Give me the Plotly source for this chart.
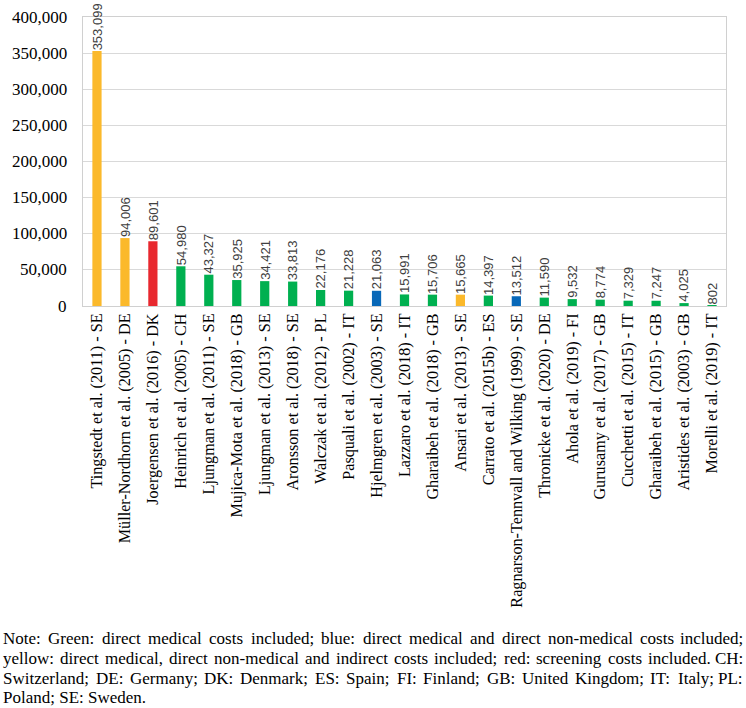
import plotly.graph_objects as go

studies = [
    "Tingstedt et al. (2011) - SE",
    "Müller-Nordhorn et al. (2005) - DE",
    "Joergensen et al. (2016) - DK",
    "Heinrich et al. (2005) - CH",
    "Ljungman et al. (2011) - SE",
    "Mujica-Mota et al. (2018) - GB",
    "Ljungman et al. (2013) - SE",
    "Aronsson et al. (2018) - SE",
    "Walczak et al. (2012) - PL",
    "Pasquali et al. (2002) - IT",
    "Hjelmgren et al. (2003) - SE",
    "Lazzaro et al. (2018) - IT",
    "Gharaibeh et al. (2018) - GB",
    "Ansari et al. (2013) - SE",
    "Carrato et al. (2015b) - ES",
    "Ragnarson-Tennvall and Wilking (1999) - SE",
    "Thronicke et al. (2020) - DE",
    "Ahola et al. (2019) - FI",
    "Gurusamy et al. (2017) - GB",
    "Cucchetti et al. (2015) - IT",
    "Gharaibeh et al. (2015) - GB",
    "Aristides et al. (2003) - GB",
    "Morelli et al. (2019) - IT",
]
costs = [353099, 94006, 89601, 54980, 43327, 35925, 34421, 33813, 22176, 21228,
         21063, 15991, 15706, 15665, 14397, 13512, 11590, 9532, 8774, 7329,
         7247, 4025, 802]
cost_type = ["yellow", "yellow", "red", "green", "green", "green", "green", "green",
             "green", "green", "blue", "green", "green", "yellow", "green", "blue",
             "green", "green", "green", "green", "green", "green", "green"]
y_ticks = [0, 50000, 100000, 150000, 200000, 250000, 300000, 350000, 400000]

note_lines = [
    "Note: Green: direct medical costs included; blue: direct medical and direct non-medical costs included;",
    "yellow: direct medical, direct non-medical and indirect costs included; red: screening costs included. CH:",
    "Switzerland; DE: Germany; DK: Denmark; ES: Spain; FI: Finland; GB: United Kingdom; IT: Italy; PL:",
    "Poland; SE: Sweden.",
]

palette = {"green": "#00B050", "blue": "#0868B8", "yellow": "#FBB92B", "red": "#E8282E"}
colors = [palette[t] for t in cost_type]

SERIF = "Liberation Serif"
SANS = "Liberation Sans"

# figure geometry (pixels)
W, H = 746, 708
ML, MR, MT, MB = 83, 20, 17, 402
PW, PH = W - ML - MR, H - MT - MB


def px_to_paper_x(px):
    return (px - ML) / PW


def px_to_paper_y(py):
    return (H - MB - py) / PH


# Times New Roman / Liberation Serif advance widths (per 1000 em)
TNR = {
    ' ': 250, ';': 278, ':': 278, ',': 250, '.': 250, '-': 333,
    'a': 444, 'b': 500, 'c': 444, 'd': 500, 'e': 444, 'f': 333, 'g': 500, 'h': 500,
    'i': 278, 'j': 278, 'k': 500, 'l': 278, 'm': 778, 'n': 500, 'o': 500, 'p': 500,
    'q': 500, 'r': 333, 's': 389, 't': 278, 'u': 500, 'v': 500, 'w': 722, 'x': 500,
    'y': 500, 'z': 444,
    'A': 722, 'B': 667, 'C': 667, 'D': 722, 'E': 611, 'F': 556, 'G': 722, 'H': 722,
    'I': 333, 'J': 389, 'K': 722, 'L': 611, 'M': 889, 'N': 722, 'O': 722, 'P': 556,
    'Q': 722, 'R': 667, 'S': 556, 'T': 611, 'U': 722, 'V': 722, 'W': 944, 'X': 722,
    'Y': 722, 'Z': 611,
}


def text_w(s, size):
    return sum(TNR.get(c, 500) for c in s) * size / 1000.0


fig = go.Figure()
fig.add_trace(go.Bar(x=studies, y=costs, marker=dict(color=colors, line=dict(width=0)),
                     width=0.33, hoverinfo="x+y"))

# value labels above bars
for s, v in zip(studies, costs):
    fig.add_annotation(x=s, y=v, text=f"{v:,}", textangle=-90, showarrow=False,
                       xanchor="center", yanchor="bottom", yshift=0, borderpad=0,
                       font=dict(family=SANS, size=13, color="#404040"))

# y tick labels (serif)
for t in y_ticks:
    fig.add_annotation(xref="paper", yref="y", x=0, y=t, text=f"{t:,}",
                       xanchor="right", yanchor="middle", xshift=-15, borderpad=0,
                       showarrow=False,
                       font=dict(family=SERIF, size=17, color="#000000"))

# justified note text
NOTE_SIZE = 17
LEFT, RIGHT = 2, 744
line_centers = [639, 658.5, 678, 697.5]
for i, line in enumerate(note_lines):
    yc = px_to_paper_y(line_centers[i])
    words = line.split(" ")
    if i < len(note_lines) - 1:
        widths = [text_w(w, NOTE_SIZE) for w in words]
        gap = (RIGHT - LEFT - sum(widths)) / (len(words) - 1)
        xpos = LEFT
        for j, w in enumerate(words):
            if j == len(words) - 1:
                fig.add_annotation(xref="paper", yref="paper", x=px_to_paper_x(RIGHT),
                                   xanchor="right", y=yc, yanchor="middle", text=w,
                                   showarrow=False, borderpad=0,
                                   font=dict(family=SERIF, size=NOTE_SIZE, color="#000000"))
            else:
                fig.add_annotation(xref="paper", yref="paper", x=px_to_paper_x(xpos),
                                   xanchor="left", y=yc, yanchor="middle", text=w,
                                   showarrow=False, borderpad=0,
                                   font=dict(family=SERIF, size=NOTE_SIZE, color="#000000"))
            xpos += widths[j] + gap
    else:
        fig.add_annotation(xref="paper", yref="paper", x=px_to_paper_x(LEFT),
                           xanchor="left", y=yc, yanchor="middle", text=line,
                           showarrow=False, borderpad=0,
                           font=dict(family=SERIF, size=NOTE_SIZE, color="#000000"))

fig.update_layout(
    width=W, height=H,
    margin=dict(l=ML, r=MR, t=MT, b=MB),
    paper_bgcolor="white", plot_bgcolor="white",
    showlegend=False,
    font=dict(family=SERIF, color="#000000"),
    xaxis=dict(tickangle=-90, tickfont=dict(family=SERIF, size=16.2, color="#000000"),
               showline=True, linecolor="#D0D0D0", linewidth=1, mirror=True,
               ticks="", automargin=False, showgrid=False),
    yaxis=dict(range=[0, 400000], tickmode="array", tickvals=y_ticks,
               showticklabels=False,
               showgrid=True, gridcolor="#D9D9D9", gridwidth=1,
               showline=True, linecolor="#D0D0D0", linewidth=1, mirror=True,
               zeroline=False, ticks="", automargin=False),
)

fig.write_html("out.html", config={"displayModeBar": False},
               post_script="document.body.style.margin='0';document.body.style.overflow='hidden';")
